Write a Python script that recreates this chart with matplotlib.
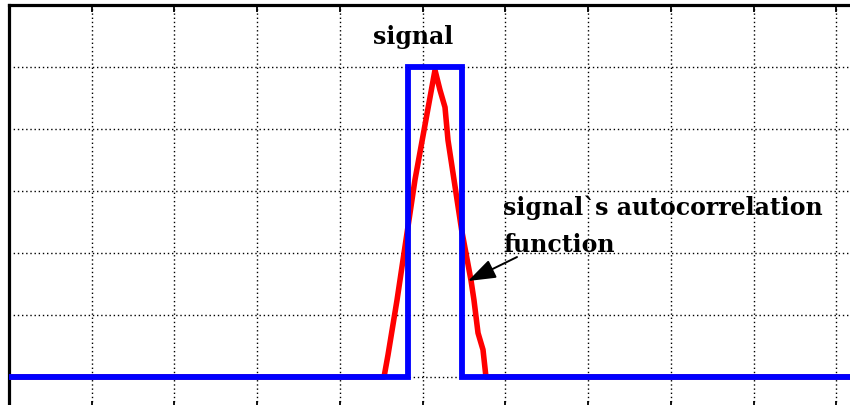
import matplotlib
matplotlib.use("Agg")
import matplotlib.pyplot as plt

# ---- data (grid units) ----
signal_x = [0.0, 4.82, 4.82, 5.47, 5.47, 11.0]
signal_y = [0.0, 0.0, 5.0, 5.0, 0.0, 0.0]

acf_x = [0.0, 4.532, 4.58, 4.689, 4.906, 5.148, 5.208, 5.269, 5.305, 5.378,
         5.47, 5.583, 5.619, 5.668, 5.728, 5.764, 11.0]
acf_y = [0.0, 0.0, 0.355, 1.24, 3.18, 4.95, 4.63, 4.35, 3.82, 3.18,
         2.37, 1.56, 1.24, 0.71, 0.44, 0.0, 0.0]

x_ticks = [1, 2, 3, 4, 5, 6, 7, 8, 9, 10]
y_ticks = [0, 1, 2, 3, 4, 5]

label_signal = "signal"
label_acf_1 = "signal`s autocorrelation"
label_acf_2 = "function"

W, H = 850, 405
fig = plt.figure(figsize=(W / 100, H / 100), dpi=100)
fig.patch.set_facecolor("white")

# axes extends beyond the right/bottom edge of the figure (cropped look)
left_px, top_px = 9, 5
right_px = 9 + 82.75 * 11
bottom_px = 377 + 31
ax = fig.add_axes([left_px / W, 1 - bottom_px / H,
                   (right_px - left_px) / W, (bottom_px - top_px) / H])
ax.set_xlim(0, 11)
ax.set_ylim(-0.5, 6)

ax.set_xticks(x_ticks)
ax.set_yticks(y_ticks)
ax.set_xticklabels([])
ax.set_yticklabels([])
ax.tick_params(axis="x", direction="in", length=5, width=1.3, top=True, bottom=True,
               color="black")
ax.tick_params(axis="y", length=0)
ax.grid(True, color="black", linestyle=(0, (1, 2.0)), linewidth=1.0)
ax.set_axisbelow(True)

for s in ax.spines.values():
    s.set_linewidth(2.3)
    s.set_color("black")

ax.plot(acf_x, acf_y, color=(1, 0, 0), linewidth=4.0, solid_joinstyle="round", zorder=3)
ax.plot(signal_x, signal_y, color=(0, 0, 1), linewidth=4.2, solid_joinstyle="miter", zorder=4)

font = dict(family="DejaVu Serif", weight="bold", size=17, color="black")
ax.text(4.40, 5.37, label_signal, ha="left", va="baseline", **font)
ax.text(5.97, 2.61, label_acf_1, ha="left", va="baseline", **font)
ax.text(5.97, 2.02, label_acf_2, ha="left", va="baseline", **font)

ax.annotate("", xy=(5.547, 1.548), xytext=(6.139, 1.935),
            arrowprops=dict(arrowstyle="-|>,head_length=0.85,head_width=0.3",
                            mutation_scale=20, lw=1.4, color="black",
                            shrinkA=0, shrinkB=0), zorder=5)

fig.savefig("out.png", dpi=100)
